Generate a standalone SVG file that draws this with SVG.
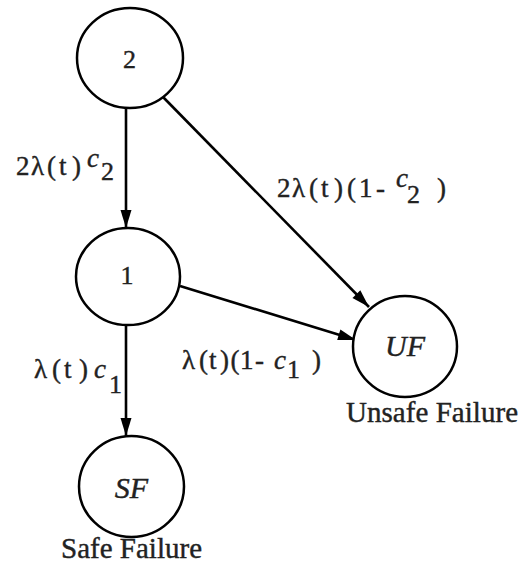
<svg xmlns="http://www.w3.org/2000/svg" width="523" height="565" viewBox="0 0 523 565">
<defs>
<marker id="ah" viewBox="-19 -7 20 14" refX="0" refY="0" markerWidth="20" markerHeight="14" markerUnits="userSpaceOnUse" orient="auto">
<path d="M0,0 L-18,-5.5 L-18,5.5 Z" fill="#000"/>
</marker>
<style>
.node{fill:#fff;stroke:#000;stroke-width:2.5}
.edge{stroke:#000;stroke-width:2.6;fill:none;marker-end:url(#ah)}
text{font-family:"Liberation Serif","Times New Roman",serif;fill:#222;stroke:#222;stroke-width:0.4}
.lbl{font-size:27px}
.sub{font-size:26px}
.it{font-style:italic}
.nl{font-size:26px;text-anchor:middle}
.nli{font-size:30px;font-style:italic;text-anchor:middle}
.cap{font-size:29px}
</style>
</defs>
<g id="connectors">
<line class="edge" x1="126" y1="108" x2="126" y2="228"/>
<line class="edge" x1="126" y1="325" x2="126" y2="436"/>
<line class="edge" x1="163" y1="97" x2="369" y2="307"/>
<line class="edge" x1="180" y1="286" x2="356" y2="340"/>
<g id="edge-labels">
<text class="lbl"><tspan x="16" y="175">2</tspan><tspan x="31" y="175">λ</tspan><tspan x="47" y="175">(</tspan><tspan x="59" y="175">t</tspan><tspan x="72" y="175">)</tspan><tspan class="it" x="87" y="167">c</tspan><tspan class="sub" x="101" y="180">2</tspan></text>
<text class="lbl"><tspan x="277" y="197">2</tspan><tspan x="292" y="197">λ</tspan><tspan x="309" y="197">(</tspan><tspan x="321" y="197">t</tspan><tspan x="334" y="197">)</tspan><tspan x="347" y="197">(</tspan><tspan x="359" y="197">1</tspan><tspan x="376" y="197">-</tspan><tspan class="it" x="396" y="187">c</tspan><tspan class="sub" x="407" y="203">2</tspan><tspan x="437" y="197">)</tspan></text>
<text class="lbl"><tspan x="34" y="378">λ</tspan><tspan x="52" y="378">(</tspan><tspan x="64" y="378">t</tspan><tspan x="79" y="378">)</tspan><tspan class="it" x="94" y="378">c</tspan><tspan class="sub" x="109" y="393">1</tspan></text>
<text class="lbl"><tspan x="182" y="369">λ</tspan><tspan x="199" y="369">(</tspan><tspan x="209" y="369">t</tspan><tspan x="220" y="369">)</tspan><tspan x="230.5" y="369">(</tspan><tspan x="240" y="369">1</tspan><tspan x="255" y="369">-</tspan><tspan class="it" x="274" y="369">c</tspan><tspan class="sub" x="287" y="378">1</tspan><tspan x="312" y="369">)</tspan></text>
</g>
</g>
<g id="node-2">
<ellipse class="node" cx="130" cy="58" rx="53" ry="50"/>
<text class="nl" x="129.5" y="68">2</text>
</g>
<g id="node-1">
<ellipse class="node" cx="128" cy="276.5" rx="52" ry="48.5"/>
<text class="nl" x="127" y="284">1</text>
</g>
<g id="node-UF">
<ellipse class="node" cx="405" cy="346.5" rx="52" ry="50.5"/>
<text class="nli" x="405" y="356">UF</text>
<text class="cap" x="346" y="422" textLength="172" lengthAdjust="spacing">Unsafe Failure</text>
</g>
<g id="node-SF">
<ellipse class="node" cx="131.5" cy="486.5" rx="52.5" ry="50.5"/>
<text class="nli" x="131.5" y="498">SF</text>
<text class="cap" x="61" y="558" textLength="141" lengthAdjust="spacing">Safe Failure</text>
</g>
</svg>
